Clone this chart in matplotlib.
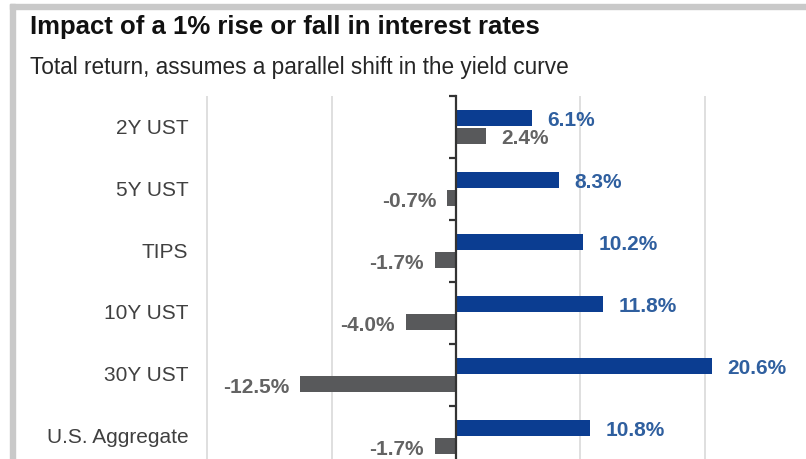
import matplotlib
matplotlib.use('agg')
import matplotlib.pyplot as plt
from matplotlib.patches import Rectangle
import numpy as np

plt.rcParams['font.family'] = ['Liberation Sans', 'DejaVu Sans']

categories = ['2Y UST', '5Y UST', 'TIPS', '10Y UST', '30Y UST', 'U.S. Aggregate']
fall_1pct = [6.1, 8.3, 10.2, 11.8, 20.6, 10.8]     # rates down 1%
rise_1pct = [2.4, -0.7, -1.7, -4.0, -12.5, -1.7]   # rates up 1%

blue = '#0b3d91'
blue_txt = '#2f5f9f'
grey = '#58595b'
grey_txt = '#636363'

W, H = 806, 460
fig = plt.figure(figsize=(W / 100, H / 100), dpi=100)

# page frame: grey bar along the top and left edge
fig.patches.append(Rectangle((10 / W, 1 - 10 / H), 1, 5 / H, transform=fig.transFigure,
                             color='#c9c9c9', zorder=0))
fig.patches.append(Rectangle((10 / W, 0), 5 / W, 1 - 5 / H, transform=fig.transFigure,
                             color='#c9c9c9', zorder=0))

fig.text(30 / W, 1 - 34 / H, 'Impact of a 1% rise or fall in interest rates',
         fontsize=18.5, fontweight='bold', color='#111111', va='baseline')
fig.text(30 / W, 1 - 74 / H, 'Total return, assumes a parallel shift in the yield curve',
         fontsize=16.3, color='#262626', va='baseline')

# axes box in pixels: left 190, right 790, top 97, bottom 469 (runs past the edge)
ax = fig.add_axes([190 / W, 1 - 469 / H, 600 / W, 372 / H])
ax.set_xlim(-21.37, 26.83)
ax.set_ylim(5.5, -0.5)

y = np.arange(len(categories))
bh = 0.27
off = 0.145
ax.barh(y - off, fall_1pct, height=bh, color=blue, zorder=3)
ax.barh(y + off, rise_1pct, height=bh, color=grey, zorder=3)

for g in [-20, -10, 10, 20]:
    ax.axvline(g, color='#d9d9d9', lw=1.2, zorder=1)

for sp in ['top', 'right', 'bottom']:
    ax.spines[sp].set_visible(False)
ax.spines['left'].set_position(('data', 0))
ax.spines['left'].set_color('#333333')
ax.spines['left'].set_linewidth(1.6)
ax.spines['left'].set_zorder(4)
ax.set_xticks([])
ax.set_yticks(np.arange(-0.5, len(categories) + 0.5, 1.0))
ax.set_yticklabels([])
ax.tick_params(axis='y', length=5, width=1.6, color='#333333', direction='out')

for i, c in enumerate(categories):
    ax.text(-21.5, i, c, ha='right', va='center', fontsize=15, color='#404040')

for i, v in enumerate(fall_1pct):
    ax.annotate(f'{v:.1f}%', (v, i - off), xytext=(11, -1), textcoords='offset points',
                ha='left', va='center', fontsize=15, fontweight='bold', color=blue_txt)

for i, v in enumerate(rise_1pct):
    if v >= 0:
        ax.annotate(f'{v:.1f}%', (v, i + off), xytext=(11, -1), textcoords='offset points',
                    ha='left', va='center', fontsize=15, fontweight='bold', color=grey_txt)
    else:
        ax.annotate(f'{v:.1f}%', (v, i + off), xytext=(-8, -2), textcoords='offset points',
                    ha='right', va='center', fontsize=15, fontweight='bold', color=grey_txt)

plt.savefig('out.png', dpi=100)
